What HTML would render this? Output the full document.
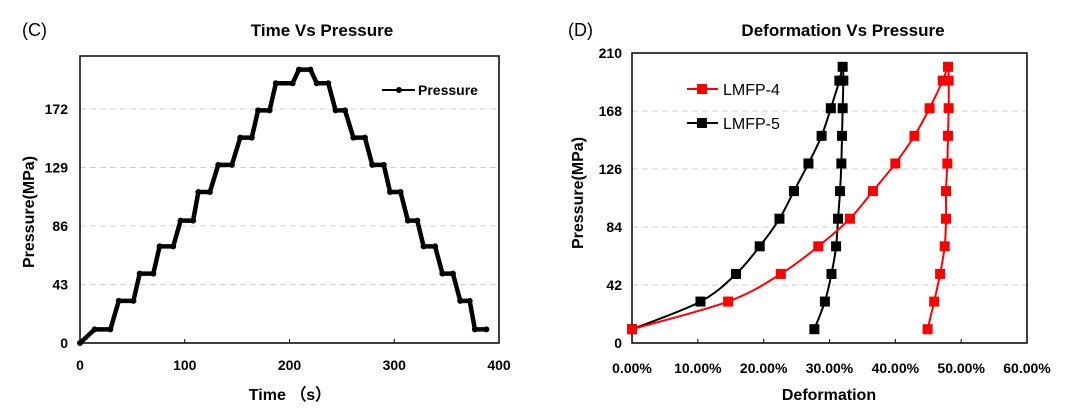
<!DOCTYPE html>
<html><head><meta charset="utf-8"><style>
body{margin:0;background:#fff;width:1080px;height:414px;overflow:hidden}
svg text{font-family:"Liberation Sans",sans-serif}
</style></head><body>
<svg id="s" width="1080" height="414" xmlns="http://www.w3.org/2000/svg">
<text x="22" y="36" font-size="18">(C)</text>
<text x="322" y="36" font-size="17" font-weight="bold" text-anchor="middle">Time Vs Pressure</text>
<text x="568" y="36" font-size="18">(D)</text>
<text x="843" y="36" font-size="17" font-weight="bold" text-anchor="middle">Deformation Vs Pressure</text>
<g id="L"></g><g id="R"></g>
</svg>
<script>
// Left chart data
const timeVals=[0,14,29,37,51,57,70,76,89,96,108,113,124,132,145,153,164,170,181,187,203,209,220,226,237,244,253,261,272,279,290,296,306,313,322,328,339,346,356,363,372,377,388];
const pressureVals=[0,10,10,31,31,51,51,71,71,90,90,111,111,131,131,151,151,171,171,191,191,201,201,191,191,171,171,151,151,131,131,111,111,90,90,71,71,51,51,31,31,10,10];
const leftXTicks=[0,100,200,300,400];
const leftYTicks=[0,43,86,129,172];
// Right chart data
const levels=[10,30,50,70,90,110,130,150,170,190,200,190,170,150,130,110,90,70,50,30,10];
const lmfp4=[0,14.6,22.6,28.3,33.1,36.6,40.0,42.9,45.2,47.2,48.0,48.1,48.1,48.0,47.9,47.7,47.7,47.5,46.8,45.9,44.9];
const lmfp5=[0,10.4,15.8,19.4,22.4,24.6,26.8,28.8,30.2,31.5,32.0,32.1,32.0,31.9,31.8,31.6,31.3,31.0,30.3,29.3,27.7];
const rightXTicks=[0,10,20,30,40,50,60];
const rightYTicks=[0,42,84,126,168,210];
const NS="http://www.w3.org/2000/svg";
function mk(p,t,a){const e=document.createElementNS(NS,t);for(const k in a)e.setAttribute(k,a[k]);p.appendChild(e);return e;}
// Left
const L=document.getElementById('L');
const lx=v=>80+v/400*419, ly=v=>343-v/211*287;
leftYTicks.forEach(v=>{
 if(v>0){const g=mk(L,'line',{x1:80,x2:499,y1:ly(v),y2:ly(v),stroke:'#d0d0d0','stroke-dasharray':'6,4'});
 
 }
 const t=mk(L,'text',{x:68,y:ly(v)+5,'font-size':14,'font-weight':'bold','text-anchor':'end'});t.textContent=v;
 
 
});
leftXTicks.forEach(v=>{
 const t=mk(L,'text',{x:lx(v),y:370,'font-size':14,'font-weight':'bold','text-anchor':'middle'});t.textContent=v;
 
 
 const k=mk(L,'line',{x1:lx(v),x2:lx(v),y1:343,y2:339,stroke:'#000'});
 
 
});
const lf=mk(L,'rect',{x:80,y:56,width:419,height:287,fill:'none',stroke:'#000','stroke-width':1.5});


const pl=mk(L,'polyline',{points:timeVals.map((t,i)=>lx(t)+','+ly(pressureVals[i])).join(' '),fill:'none',stroke:'#000','stroke-width':4.5,'stroke-linejoin':'round','stroke-linecap':'round'});


timeVals.forEach((t,i)=>{const c=mk(L,'circle',{cx:lx(t),cy:ly(pressureVals[i]),r:3});
 
 });
let e=mk(L,'line',{x1:382,x2:415,y1:90,y2:90,stroke:'#000','stroke-width':2});


e=mk(L,'circle',{cx:399,cy:90,r:3});


e=mk(L,'text',{x:418,y:95,'font-size':14,'font-weight':'bold'});e.textContent='Pressure';


e=mk(L,'text',{x:290,y:400,'font-size':16,'font-weight':'bold','text-anchor':'middle'});e.textContent='Time （s）';


e=mk(L,'text',{x:0,y:0,'font-size':16,'font-weight':'bold','text-anchor':'middle',transform:'translate(34,212) rotate(-90)'});e.textContent='Pressure(MPa)';


// Right
const R=document.getElementById('R');
const rx=v=>632+v/60*395, ry=v=>343-v/210*290;
rightYTicks.forEach(v=>{
 if(v>0&&v<210){const g=mk(R,'line',{x1:632,x2:1027,y1:ry(v),y2:ry(v),stroke:'#d0d0d0','stroke-dasharray':'6,4'});
 
 }
 const t=mk(R,'text',{x:622,y:ry(v)+5,'font-size':14,'font-weight':'bold','text-anchor':'end'});t.textContent=v;
 
 
});
rightXTicks.forEach(v=>{
 const t=mk(R,'text',{x:rx(v),y:373,'font-size':14,'font-weight':'bold','text-anchor':'middle'});t.textContent=v.toFixed(2)+'%';
 
 
 const k=mk(R,'line',{x1:rx(v),x2:rx(v),y1:343,y2:339,stroke:'#000'});
 
 
});
const rf=mk(R,'rect',{x:632,y:53,width:395,height:290,fill:'none',stroke:'#000','stroke-width':1.5});


function smooth(pts){let d='M'+pts[0][0]+','+pts[0][1];
 for(let i=0;i<pts.length-1;i++){const p0=pts[i-1]||pts[i],p1=pts[i],p2=pts[i+1],p3=pts[i+2]||p2;
  d+=' C'+(p1[0]+(p2[0]-p0[0])/6)+','+(p1[1]+(p2[1]-p0[1])/6)+' '+(p2[0]-(p3[0]-p1[0])/6)+','+(p2[1]-(p3[1]-p1[1])/6)+' '+p2[0]+','+p2[1];}
 return d;}
function series(arr,col,name){
 const pts=arr.map((v,i)=>[rx(v),ry(levels[i])]);
 const p=mk(R,'path',{d:smooth(pts),fill:'none',stroke:col,'stroke-width':2});
 
 
 pts.forEach(q=>{const m=mk(R,'rect',{x:q[0]-5,y:q[1]-5,width:10,height:10,fill:col});
  
  });
}
series(lmfp5,'#000','lmfp-5');
series(lmfp4,'#ff0000','lmfp-4');
[['LMFP-4','#ff0000',89],['LMFP-5','#000',123]].forEach(a=>{
 let g=mk(R,'line',{x1:687,x2:718,y1:a[2],y2:a[2],stroke:a[1],'stroke-width':2});
 
 
 g=mk(R,'rect',{x:697,y:a[2]-5,width:10,height:10,fill:a[1]});
 
 
 g=mk(R,'text',{x:723,y:a[2]+6,'font-size':16});g.textContent=a[0];
 
 
});
e=mk(R,'text',{x:829,y:400,'font-size':16,'font-weight':'bold','text-anchor':'middle'});e.textContent='Deformation';


e=mk(R,'text',{x:0,y:0,'font-size':16,'font-weight':'bold','text-anchor':'middle',transform:'translate(583,193) rotate(-90)'});e.textContent='Pressure(MPa)';


</script>
</body></html>
